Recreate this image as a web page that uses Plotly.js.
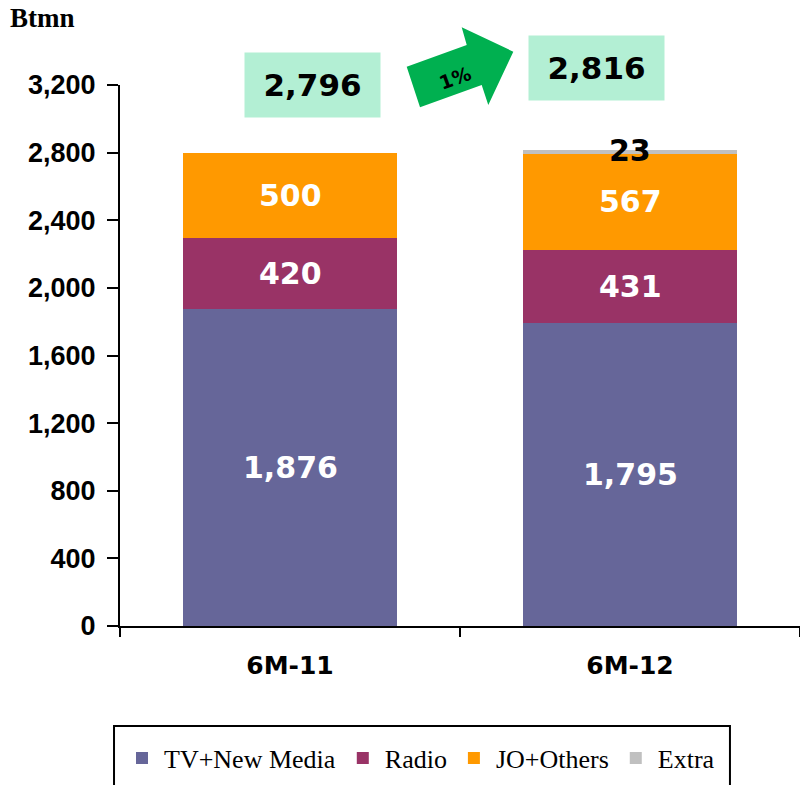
<!DOCTYPE html>
<html>
<head>
<meta charset="utf-8">
<script src="https://cdn.plot.ly/plotly-3.0.1.min.js"></script>
<style>html,body{margin:0;padding:0;background:#fff;}#chart{width:800px;height:785px;}</style>
</head>
<body>
<div id="chart"></div>
<script>
const categories = ['6M-11', '6M-12'];
const seriesNames = ['TV+New Media', 'Radio', 'JO+Others', 'Extra'];
const tvNewMedia = [1876, 1795];
const radio = [420, 431];
const joOthers = [500, 567];
const extra = [0, 23];
const growthLabel = '1%';
const yTickVals = [0, 400, 800, 1200, 1600, 2000, 2400, 2800, 3200];

const colors = ['#666699', '#993366', '#FF9900', '#C0C0C0'];
const series = [tvNewMedia, radio, joOthers, extra];
const totals = categories.map((c, i) => series.reduce((s, arr) => s + arr[i], 0));
const fmt = v => v.toLocaleString('en-US');

const labelFont = {family: 'DejaVu Sans', size: 30, color: '#ffffff', weight: 'bold'};

const traces = series.map((vals, k) => ({
  type: 'bar',
  name: seriesNames[k],
  x: categories,
  y: vals,
  width: 0.627,
  marker: {color: colors[k], line: {width: 0}},
  hoverinfo: 'skip'
}));

const annotations = [];
for (let k = 0; k < 3; k++) {
  categories.forEach((c, i) => {
    let base = 0;
    for (let j = 0; j < k; j++) base += series[j][i];
    annotations.push({
      x: c, y: base + series[k][i] / 2, xref: 'x', yref: 'y',
      text: fmt(series[k][i]), showarrow: false,
      font: labelFont, xanchor: 'center', yanchor: 'middle'
    });
  });
}
categories.forEach((c, i) => {
  if (extra[i] > 0) {
    annotations.push({
      x: c, y: totals[i], xref: 'x', yref: 'y', text: fmt(extra[i]), showarrow: false,
      font: {family: 'DejaVu Sans', size: 30, color: '#000000', weight: 'bold'},
      xanchor: 'center', yanchor: 'middle', yshift: -1
    });
  }
});
const boxPos = [{xshift: 22, y: 1.0}, {xshift: -34, y: 1.0305}];
categories.forEach((c, i) => {
  annotations.push({
    x: c, xref: 'x', y: boxPos[i].y, yref: 'paper', xshift: boxPos[i].xshift,
    text: fmt(totals[i]), showarrow: false,
    width: 135, height: 64, bgcolor: '#B3EFD4', borderpad: 0,
    font: {family: 'DejaVu Sans', size: 31, color: '#000000', weight: 'bold'},
    xanchor: 'center', yanchor: 'middle'
  });
});
annotations.push({
  x: 0.4926, y: 1.013, xref: 'paper', yref: 'paper', text: growthLabel, showarrow: false,
  textangle: -20, font: {family: 'DejaVu Sans', size: 19, color: '#000000', weight: 'bold'},
  xanchor: 'center', yanchor: 'middle'
});
annotations.push({
  x: -0.1647, y: 1.124, xref: 'paper', yref: 'paper', text: 'Btmn', showarrow: false,
  font: {family: 'Liberation Serif', size: 27, color: '#000000', weight: 'bold'},
  xanchor: 'left', yanchor: 'middle'
});

const arrowPts = [[0.4216,1.0338],[0.5099,1.0739],[0.5025,1.1067],[0.5784,1.0616],[0.5416,0.9630],[0.5319,1.0000],[0.4412,0.9588]];
const arrowPath = 'M' + arrowPts.map(p => p[0] + ',' + p[1]).join('L') + 'Z';

const shapes = [
  {type: 'path', xref: 'paper', yref: 'paper', path: arrowPath, fillcolor: '#00B050', line: {width: 0}},
  {type: 'rect', xref: 'paper', yref: 'paper', x0: -0.0088, x1: 0.897, y0: -0.34, y1: -0.1848,
   line: {color: '#000000', width: 2}, fillcolor: 'rgba(0,0,0,0)'}
];

const layout = {
  width: 800, height: 785,
  margin: {l: 120, r: 0, t: 85, b: 159, pad: 0},
  paper_bgcolor: '#ffffff', plot_bgcolor: '#ffffff',
  barmode: 'stack',
  bargap: 0.373,
  showlegend: true,
  legend: {
    orientation: 'h', x: 0.0, xanchor: 'left', y: -0.244, yanchor: 'middle',
    font: {family: 'Liberation Serif', size: 26, color: '#000000'},
    itemwidth: 34,
    traceorder: 'normal', bgcolor: 'rgba(0,0,0,0)', borderwidth: 0
  },
  xaxis: {
    type: 'category', range: [-0.5, 1.5], showgrid: false, zeroline: false,
    showline: true, linecolor: '#000000', linewidth: 2,
    ticks: 'outside', tickson: 'boundaries', ticklen: 9, tickwidth: 2, tickcolor: '#000000',
    ticklabelstandoff: 16,
    tickfont: {family: 'DejaVu Sans', size: 25, color: '#000000', weight: 'bold'},
    fixedrange: true
  },
  yaxis: {
    range: [0, 3200], tickvals: yTickVals, ticktext: yTickVals.map(fmt),
    showgrid: false, zeroline: false, showline: true, linecolor: '#000000', linewidth: 2,
    ticks: 'outside', ticklen: 11, tickwidth: 2, tickcolor: '#000000',
    ticklabelstandoff: 6,
    tickfont: {family: 'Liberation Sans', size: 27, color: '#000000', weight: 'bold'},
    fixedrange: true
  },
  annotations: annotations,
  shapes: shapes
};

Plotly.newPlot('chart', traces, layout, {displayModeBar: false, staticPlot: true});
</script>
</body>
</html>
